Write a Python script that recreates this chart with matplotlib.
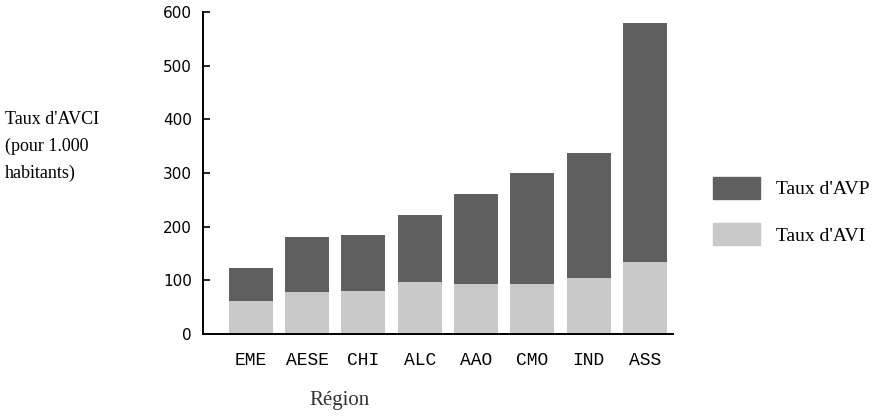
import matplotlib
matplotlib.use("Agg")
import matplotlib.pyplot as plt
from matplotlib.patches import Patch

# Données (pour 1.000 habitants)
regions = ["EME", "AESE", "CHI", "ALC", "AAO", "CMO", "IND", "ASS"]
avi = [62, 78, 81, 97, 93, 93, 104, 134]
avp = [61, 103, 103, 125, 168, 207, 233, 446]
yticks = [0, 100, 200, 300, 400, 500, 600]

dark = "#5f5f5f"
light = "#c9c9c9"

fig = plt.figure(figsize=(8.87, 4.18), dpi=100)
ax = fig.add_axes([203 / 887, 1 - 334 / 418, (673 - 203) / 887, (334 - 12) / 418])

x = range(len(regions))
ax.bar(x, avi, width=0.78, color=light)
ax.bar(x, avp, width=0.78, bottom=avi, color=dark)

ax.set_xlim(-0.85, 7.5)
ax.set_ylim(0, 600)
ax.set_yticks(yticks)
ax.set_yticklabels([str(v) for v in yticks], fontfamily="DejaVu Sans", fontsize=11)
ax.set_xticks(list(x))
ax.set_xticklabels(regions, fontfamily="Liberation Mono", fontsize=13)
ax.tick_params(axis="x", length=0, pad=13)
ax.tick_params(axis="y", direction="in", length=5, width=1.2, pad=8)

for s in ["top", "right"]:
    ax.spines[s].set_visible(False)
ax.spines["left"].set_linewidth(1.4)
ax.spines["bottom"].set_linewidth(1.4)

# Titre de l'axe Y à gauche, sur trois lignes
for txt, ypix in [("Taux d'AVCI", 119), ("(pour 1.000", 146), ("habitants)", 173)]:
    fig.text(5 / 887, 1 - ypix / 418, txt, fontfamily="Liberation Serif", fontsize=13, va="center")

fig.text(340 / 887, 1 - 400 / 418, "Région", fontfamily="Liberation Serif", fontsize=15,
         ha="center", va="center", color="#333333")

handles = [Patch(color=dark, label="Taux d'AVP"), Patch(color=light, label="Taux d'AVI")]
fig.legend(handles=handles, loc="upper left", bbox_to_anchor=(713 / 887, 1 - 177 / 418),
           frameon=False, borderpad=0, borderaxespad=0, handlelength=2.4, handleheight=1.35,
           labelspacing=1.25, handletextpad=0.85, prop={"family": "Liberation Serif", "size": 14})

fig.savefig("out.png", dpi=100)
